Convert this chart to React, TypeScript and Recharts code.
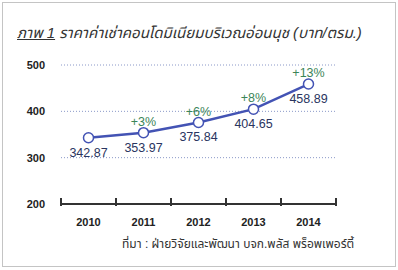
import { CartesianGrid, LabelList, Line, LineChart, XAxis, YAxis } from "recharts";

const years = ["2010", "2011", "2012", "2013", "2014"];
const prices = [342.87, 353.97, 375.84, 404.65, 458.89];
const growth = ["", "+3%", "+6%", "+8%", "+13%"];
const yTicks = [200, 300, 400, 500];

const data = years.map((year, i) => ({
  year,
  price: prices[i],
  growth: growth[i],
}));

const FONT = "'Liberation Sans', 'Noto Sans', 'Noto Sans Thai', sans-serif";

// plot area is 275px wide, split into 5 year slots
const SLOT = 275 / years.length;
const HALF = SLOT / 2;

const YearTick = (props: any) => {
  const { x, y, payload, index } = props;
  const last = index === years.length - 1;
  return (
    <g>
      <line x1={x - HALF} x2={x - HALF} y1={y - 14} y2={y - 6} stroke="#333" strokeWidth={2} />
      {last && (
        <line x1={x + HALF} x2={x + HALF} y1={y - 14} y2={y - 6} stroke="#333" strokeWidth={2} />
      )}
      <text x={x} y={y + 14} textAnchor="middle" fontSize={11} fontWeight="bold" fill="#222" fontFamily={FONT}>
        {payload.value}
      </text>
    </g>
  );
};

const App = () => {
  return (
    <div style={{ position: "absolute", left: 0, top: 0, width: 398, height: 270, background: "#fff", fontFamily: FONT }}>
      <div
        style={{
          position: "absolute",
          left: 2,
          top: 2,
          width: 392,
          height: 263,
          border: "1px solid #c4c4c4",
        }}
      />
      <div
        style={{
          position: "absolute",
          left: 17,
          top: 22,
          fontSize: 15,
          fontStyle: "italic",
          color: "#333",
          whiteSpace: "nowrap",
        }}
      >
        <span style={{ textDecoration: "underline" }}>ภาพ 1</span> ราคาค่าเช่าคอนโดมิเนียมบริเวณอ่อนนุช (บาท/ตรม.)
      </div>
      <LineChart
        width={398}
        height={270}
        data={data}
        margin={{ top: 65, right: 62, bottom: 36, left: 11 }}
        style={{ position: "absolute", left: 0, top: 0 }}
      >
        <CartesianGrid vertical={false} stroke="#8a98c8" strokeDasharray="1 2" />
        <XAxis
          dataKey="year"
          height={30}
          padding={{ left: HALF, right: HALF }}
          axisLine={{ stroke: "#333", strokeWidth: 2 }}
          tickLine={false}
          tick={<YearTick />}
        />
        <YAxis
          domain={[200, 500]}
          ticks={yTicks}
          width={50}
          axisLine={false}
          tickLine={false}
          tickMargin={10}
          tick={{ fontSize: 11, fontWeight: "bold", fill: "#222", fontFamily: FONT }}
        />
        <Line
          dataKey="price"
          stroke="#4353b4"
          strokeWidth={2.5}
          dot={{ r: 5, fill: "#fff", stroke: "#4353b4", strokeWidth: 1.5 }}
          isAnimationActive={false}
        >
          <LabelList
            dataKey="price"
            position="bottom"
            offset={10}
            fontSize={12.5}
            fill="#2a3560"
            fontFamily={FONT}
            formatter={(v: any) => Number(v).toFixed(2)}
          />
          <LabelList dataKey="growth" position="top" offset={7} fontSize={12.5} fill="#3b8558" fontFamily={FONT} />
        </Line>
      </LineChart>
      <div
        style={{
          position: "absolute",
          left: 122,
          top: 235,
          fontSize: 12,
          color: "#333",
          whiteSpace: "nowrap",
        }}
      >
        ที่มา : ฝ่ายวิจัยและพัฒนา บจก.พลัส พร็อพเพอร์ตี้
      </div>
    </div>
  );
};

export default App;
